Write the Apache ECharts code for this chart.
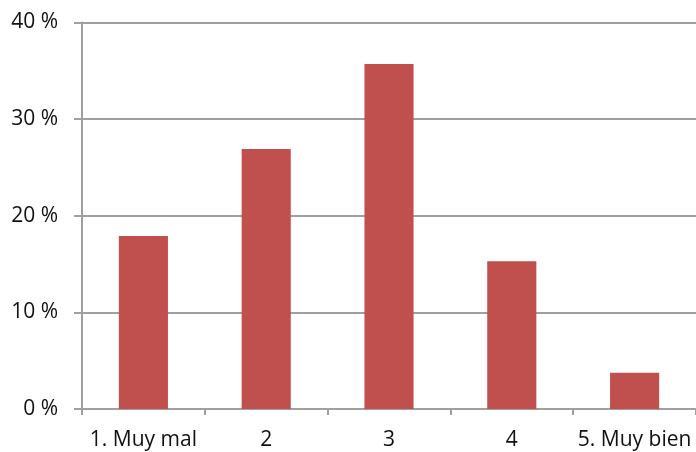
<!DOCTYPE html>
<html>
<head>
<meta charset="utf-8">
<script src="https://cdn.jsdelivr.net/npm/echarts@6/dist/echarts.min.js"></script>
<style>html,body{margin:0;padding:0;background:#fff}#c{width:696px;height:452px}</style>
</head>
<body>
<div id="c"></div>
<script>
var categories = ['1. Muy mal', '2', '3', '4', '5. Muy bien'];
var values = [17.9, 26.9, 35.7, 15.3, 3.75];
var yTicks = [0, 10, 20, 30, 40];

var chart = echarts.init(document.getElementById('c'), null, {renderer: 'canvas'});
var axisColor = '#a0a0a0';
var font = '"Open Sans", sans-serif';
chart.setOption({
  animation: false,
  grid: {left: 82, top: 22.5, right: 0, bottom: 43, containLabel: false},
  xAxis: {
    type: 'category',
    data: categories,
    boundaryGap: true,
    axisLine: {lineStyle: {color: axisColor, width: 2}},
    axisTick: {show: true, length: 6, lineStyle: {color: axisColor, width: 2}},
    axisLabel: {color: '#111', fontSize: 21, fontFamily: font, margin: 21, interval: 0}
  },
  yAxis: {
    type: 'value',
    min: yTicks[0],
    max: yTicks[yTicks.length - 1],
    interval: 10,
    axisLine: {show: true, lineStyle: {color: axisColor, width: 2}},
    axisTick: {show: true, length: 8, lineStyle: {color: axisColor, width: 2}},
    splitLine: {show: true, lineStyle: {color: axisColor, width: 2}},
    axisLabel: {color: '#111', fontSize: 21, fontFamily: font, margin: 24, formatter: '{value} %'}
  },
  series: [{
    type: 'bar',
    data: values,
    barWidth: '40%',
    itemStyle: {color: '#C0504D'}
  }]
});
</script>
</body>
</html>
